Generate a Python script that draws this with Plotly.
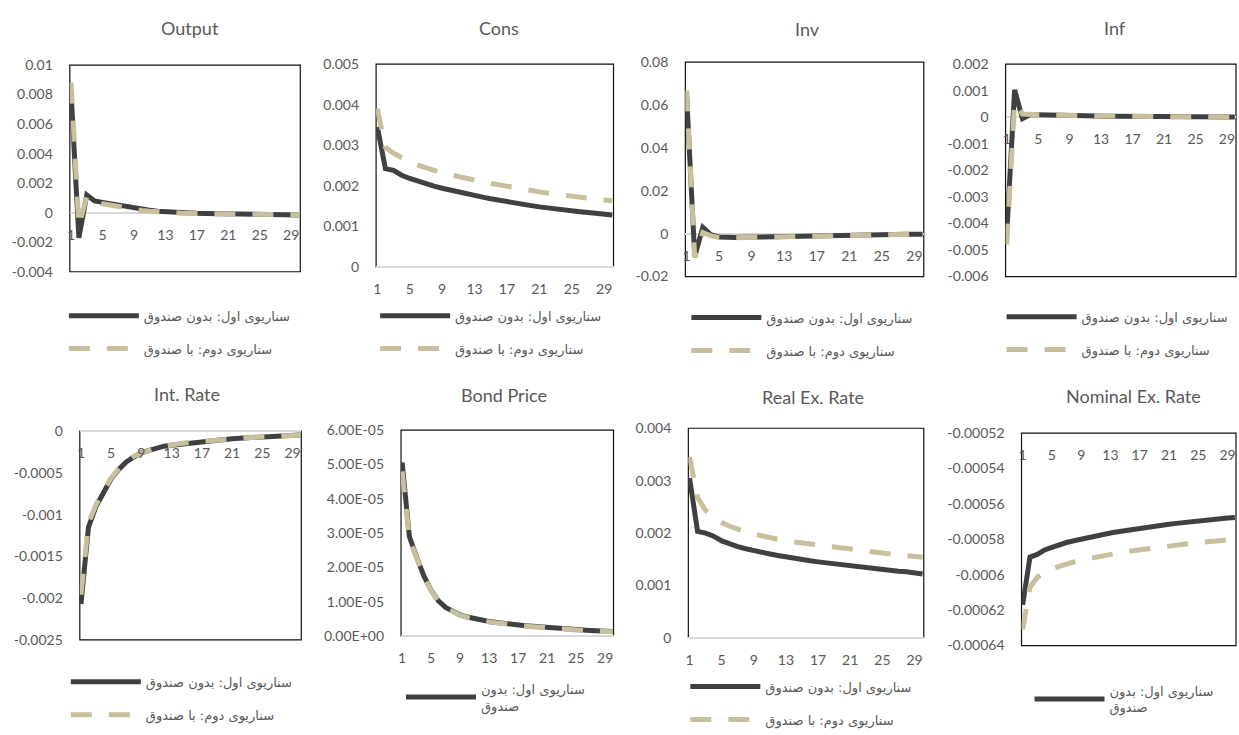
import plotly.graph_objects as go

W, H = 1239, 735

periods = list(range(1, 31))
x_tickvals = [1, 5, 9, 13, 17, 21, 25, 29]
x_ticktext = ["1", "5", "9", "13", "17", "21", "25", "29"]

titles = ["Output", "Cons", "Inv", "Inf", "Int. Rate", "Bond Price",
          "Real Ex. Rate", "Nominal Ex. Rate"]
name_s1 = "سناریوی اول: بدون صندوق"
name_s2 = "سناریوی دوم: با صندوق"
name_s1_wrapped = "سناریوی اول: بدون<br>صندوق"

# ---------------- data ----------------
output_s1 = [0.0082, -0.0017, 0.0012, 0.0008, 0.0007, 0.0006, 0.0005, 0.0004, 0.0003, 0.00022,
             0.00016, 0.0001, 0.00006, 0.00003, 0.0, -0.00002, -0.00004, -0.00005, -0.00006, -0.00007,
             -0.00008, -0.00009, -0.0001, -0.00011, -0.00011, -0.00012, -0.00013, -0.00014, -0.00014, -0.00015]
output_s2 = [0.0088, -0.0009, 0.0011, 0.0008, 0.0006, 0.0005, 0.0004, 0.0003, 0.0002, 0.00015,
             0.0001, 0.00005, 0.00002, -0.00001, -0.00003, -0.00004, -0.00005, -0.00006, -0.00007, -0.00008,
             -0.00009, -0.0001, -0.00011, -0.00011, -0.00012, -0.00013, -0.00013, -0.00014, -0.00014, -0.00015]

cons_s1 = [0.00345, 0.00242, 0.00238, 0.00226, 0.00218, 0.00211, 0.00205, 0.00199, 0.00194, 0.00189,
           0.00184, 0.0018, 0.00176, 0.00172, 0.00168, 0.00164, 0.00161, 0.00157, 0.00154, 0.00151,
           0.00148, 0.00145, 0.00143, 0.0014, 0.00138, 0.00136, 0.00134, 0.00132, 0.0013, 0.00128]
cons_s2 = [0.0039, 0.00295, 0.0028, 0.00268, 0.00259, 0.00251, 0.00244, 0.00238, 0.00232, 0.00227,
           0.00222, 0.00218, 0.00214, 0.0021, 0.00206, 0.00202, 0.00198, 0.00195, 0.00191, 0.00188,
           0.00185, 0.00182, 0.00179, 0.00176, 0.00174, 0.00171, 0.00169, 0.00167, 0.00165, 0.00163]

inv_s1 = [0.065, -0.0105, 0.003, -0.0005, -0.0015, -0.0018, -0.0018, -0.0017, -0.0016, -0.0015,
          -0.0014, -0.0013, -0.0012, -0.0011, -0.001, -0.0009, -0.0008, -0.00075, -0.0007, -0.00065,
          -0.0006, -0.00055, -0.0005, -0.00045, -0.0004, -0.0004, -0.00035, -0.0003, -0.0003, -0.00025]
inv_s2 = [0.0668, -0.0112, 0.0005, -0.001, -0.0018, -0.002, -0.0019, -0.0018, -0.0017, -0.0016,
          -0.0015, -0.0014, -0.0013, -0.0012, -0.0011, -0.001, -0.0009, -0.0008, -0.00075, -0.0007,
          -0.00065, -0.0006, -0.00055, -0.0005, -0.00045, -0.0004, -0.0004, -0.00035, -0.0003, -0.0003]

inf_s1 = [-0.0044, 0.00103, -0.00005, 0.0001, 0.00009, 0.00008, 0.00007, 0.00007, 0.00006, 0.00006,
          0.00005, 0.00005, 0.00005, 0.00004, 0.00004, 0.00004, 0.00003, 0.00003, 0.00003, 0.00003,
          0.00002, 0.00002, 0.00002, 0.00002, 0.00002, 0.00001, 0.00001, 0.00001, 0.00001, 0.00001]
inf_s2 = [-0.0048, 0.00055, 0.00012, 0.0001, 0.00009, 0.00008, 0.00007, 0.00007, 0.00006, 0.00006,
          0.00005, 0.00005, 0.00005, 0.00004, 0.00004, 0.00004, 0.00003, 0.00003, 0.00003, 0.00003,
          0.00002, 0.00002, 0.00002, 0.00002, 0.00002, 0.00001, 0.00001, 0.00001, 0.00001, 0.00001]

intrate_s1 = [-0.00207, -0.00115, -0.0009, -0.00073, -0.00057, -0.00046, -0.00037, -0.00031, -0.00026, -0.00023,
              -0.0002, -0.00018, -0.00017, -0.00016, -0.00014, -0.00013, -0.00012, -0.00011, -0.000105, -0.0001,
              -0.00009, -0.000085, -0.00008, -0.000075, -0.00007, -0.000065, -0.00006, -0.000055, -0.00005, -0.000045]
intrate_s2 = [-0.00196, -0.0011, -0.00088, -0.00071, -0.00056, -0.00045, -0.00036, -0.0003, -0.00026, -0.00023,
              -0.0002, -0.00018, -0.00017, -0.00015, -0.00014, -0.00013, -0.00012, -0.00011, -0.0001, -0.000095,
              -0.00009, -0.000085, -0.00008, -0.000075, -0.00007, -0.000065, -0.00006, -0.000055, -0.00005, -0.000045]

bond_s1 = [5.06e-5, 2.9e-5, 2.3e-5, 1.75e-5, 1.33e-5, 1.02e-5, 8.3e-6, 7.0e-6, 6.1e-6, 5.5e-6,
           5.0e-6, 4.6e-6, 4.2e-6, 3.9e-6, 3.6e-6, 3.4e-6, 3.2e-6, 3.0e-6, 2.8e-6, 2.6e-6,
           2.4e-6, 2.3e-6, 2.1e-6, 2.0e-6, 1.9e-6, 1.7e-6, 1.6e-6, 1.5e-6, 1.4e-6, 1.3e-6]
bond_s2 = [4.8e-5, 2.85e-5, 2.28e-5, 1.74e-5, 1.32e-5, 1.01e-5, 8.2e-6, 6.9e-6, 6.0e-6, 5.4e-6,
           4.9e-6, 4.5e-6, 4.1e-6, 3.8e-6, 3.5e-6, 3.3e-6, 3.1e-6, 2.9e-6, 2.7e-6, 2.5e-6,
           2.3e-6, 2.2e-6, 2.0e-6, 1.9e-6, 1.8e-6, 1.6e-6, 1.5e-6, 1.4e-6, 1.3e-6, 1.2e-6]

realex_s1 = [0.00305, 0.00203, 0.002, 0.00194, 0.00185, 0.00179, 0.00174, 0.0017, 0.00166, 0.00163,
             0.0016, 0.00157, 0.00154, 0.00152, 0.00149, 0.00147, 0.00145, 0.00143, 0.00141, 0.00139,
             0.00137, 0.00135, 0.00134, 0.00132, 0.0013, 0.00129, 0.00127, 0.00126, 0.00124, 0.00122]
realex_s2 = [0.00345, 0.00268, 0.00243, 0.0023, 0.0022, 0.00213, 0.00207, 0.00202, 0.00198, 0.00194,
             0.00191, 0.00188, 0.00185, 0.00183, 0.0018, 0.00178, 0.00176, 0.00174, 0.00172, 0.0017,
             0.00168, 0.00166, 0.00165, 0.00163, 0.00161, 0.0016, 0.00158, 0.00157, 0.00155, 0.00154]

nomex_s1 = [-0.000617, -0.00059, -0.0005885, -0.000586, -0.0005845, -0.000583, -0.0005818, -0.0005808, -0.0005798, -0.0005789,
            -0.000578, -0.0005772, -0.0005764, -0.0005757, -0.000575, -0.0005743, -0.0005737, -0.0005731, -0.0005725, -0.000572,
            -0.0005715, -0.000571, -0.0005705, -0.00057, -0.0005696, -0.0005692, -0.0005688, -0.0005684, -0.000568, -0.0005677]
nomex_s2 = [-0.000631, -0.000607, -0.0006015, -0.0005985, -0.0005965, -0.000595, -0.0005938, -0.0005927, -0.0005917, -0.0005908,
            -0.0005899, -0.0005891, -0.0005884, -0.0005877, -0.000587, -0.0005864, -0.0005858, -0.0005852, -0.0005847, -0.0005842,
            -0.0005837, -0.0005832, -0.0005828, -0.0005823, -0.0005819, -0.0005815, -0.0005811, -0.0005807, -0.0005804, -0.00058]

y_tickvals = [
    [-0.004, -0.002, 0, 0.002, 0.004, 0.006, 0.008, 0.01],
    [0, 0.001, 0.002, 0.003, 0.004, 0.005],
    [-0.02, 0, 0.02, 0.04, 0.06, 0.08],
    [-0.006, -0.005, -0.004, -0.003, -0.002, -0.001, 0, 0.001, 0.002],
    [-0.0025, -0.002, -0.0015, -0.001, -0.0005, 0],
    [0, 1e-5, 2e-5, 3e-5, 4e-5, 5e-5, 6e-5],
    [0, 0.001, 0.002, 0.003, 0.004],
    [-0.00064, -0.00062, -0.0006, -0.00058, -0.00056, -0.00054, -0.00052],
]
y_ticktext = [
    ["-0.004", "-0.002", "0", "0.002", "0.004", "0.006", "0.008", "0.01"],
    ["0", "0.001", "0.002", "0.003", "0.004", "0.005"],
    ["-0.02", "0", "0.02", "0.04", "0.06", "0.08"],
    ["-0.006", "-0.005", "-0.004", "-0.003", "-0.002", "-0.001", "0", "0.001", "0.002"],
    ["-0.0025", "-0.002", "-0.0015", "-0.001", "-0.0005", "0"],
    ["0.00E+00", "1.00E-05", "2.00E-05", "3.00E-05", "4.00E-05", "5.00E-05", "6.00E-05"],
    ["0", "0.001", "0.002", "0.003", "0.004"],
    ["-0.00064", "-0.00062", "-0.0006", "-0.00058", "-0.00056", "-0.00054", "-0.00052"],
]

series_s1 = [output_s1, cons_s1, inv_s1, inf_s1, intrate_s1, bond_s1, realex_s1, nomex_s1]
series_s2 = [output_s2, cons_s2, inv_s2, inf_s2, intrate_s2, bond_s2, realex_s2, nomex_s2]

# ---------------- layout geometry (pixels) ----------------
boxes = [(67, 298, 58, 272), (374, 612, 57, 267), (684, 923, 55, 277), (1005, 1236, 57, 277),
         (77, 299, 437, 653), (399, 612, 436, 649), (687, 923, 434, 651), (1021, 1236, 439, 659)]
title_pos = [(187, 20), (497, 20), (806, 21), (1115, 20), (184, 399), (502, 400), (812, 402), (1133, 401)]
legend_pos = [(67, 312), (379, 312), (691, 314), (1007, 313), (69, 691), (405, 698), (690, 696), (1035, 700)]
wrapped_legend = [False, False, False, False, False, True, False, True]

TXT = "#595959"
BLACK = "#404040"
TAN = "#C8BF9C"
FONT = "Lato, 'Open Sans', sans-serif"

fig = go.Figure()
layout = dict(width=W, height=H, margin=dict(l=0, r=0, t=0, b=0),
              paper_bgcolor="white", plot_bgcolor="white", showlegend=True,
              annotations=[], shapes=[])

def fx(px):
    return px / W

def fy(py):
    return 1 - py / H

for i in range(8):
    k = i + 1
    sfx = "" if k == 1 else str(k)
    x0, x1, y0, y1 = boxes[i]
    ymin, ymax = y_tickvals[i][0], y_tickvals[i][-1]
    dy0, dy1 = fy(y1), fy(y0)
    cross = min(max(0.0, ymin), ymax)
    xpos = dy0 + (cross - ymin) / (ymax - ymin) * (dy1 - dy0)
    lg = "legend" + sfx

    fig.add_trace(go.Scatter(
        x=periods, y=series_s1[i], mode="lines",
        name=name_s1_wrapped if wrapped_legend[i] else name_s1,
        line=dict(color=BLACK, width=5), xaxis="x" + sfx, yaxis="y" + sfx,
        legend=lg, legendgroup=f"a{k}", hoverinfo="skip"))
    fig.add_trace(go.Scatter(
        x=periods, y=series_s2[i], mode="lines", name=name_s2,
        line=dict(color=TAN, width=5, dash="21px,17px"), xaxis="x" + sfx, yaxis="y" + sfx,
        legend=lg, legendgroup=f"b{k}", showlegend=not wrapped_legend[i], hoverinfo="skip"))

    layout["xaxis" + sfx] = dict(
        domain=[fx(x0), fx(x1)], range=[0.85, 30.15], anchor="free", position=xpos,
        tickmode="array", tickvals=x_tickvals, ticktext=x_ticktext,
        showgrid=False, zeroline=False, showline=False, ticks="",
        tickfont=dict(family=FONT, size=14, color=TXT), ticklabelstandoff=12)
    layout["yaxis" + sfx] = dict(
        domain=[dy0, dy1], range=[ymin, ymax], anchor="x" + sfx,
        tickmode="array", tickvals=y_tickvals[i], ticktext=y_ticktext[i],
        showgrid=False, zeroline=True, zerolinecolor="#D9D9D9", zerolinewidth=1.5,
        showline=False, ticks="", tickfont=dict(family=FONT, size=14, color=TXT),
        ticklabelstandoff=16)
    layout["shapes"].append(dict(
        type="rect", xref=f"x{sfx} domain", yref=f"y{sfx} domain",
        x0=0, x1=1, y0=0, y1=1, line=dict(color="#111111", width=1.2), layer="below"))
    tx, ty = title_pos[i]
    layout["annotations"].append(dict(
        text=titles[i], x=fx(tx), y=fy(ty), xref="paper", yref="paper",
        xanchor="center", yanchor="middle", showarrow=False,
        font=dict(family=FONT, size=18, color=TXT)))
    lx, ly = legend_pos[i]
    layout[lg] = dict(
        x=fx(lx - 6), y=fy(ly - 10), xanchor="left", yanchor="top",
        bgcolor="rgba(0,0,0,0)", orientation="v", traceorder="grouped",
        tracegroupgap=13, itemwidth=70,
        font=dict(family="DejaVu Sans", size=13, color=TXT))

fig.update_layout(**layout)
fig.write_html("out.html")
